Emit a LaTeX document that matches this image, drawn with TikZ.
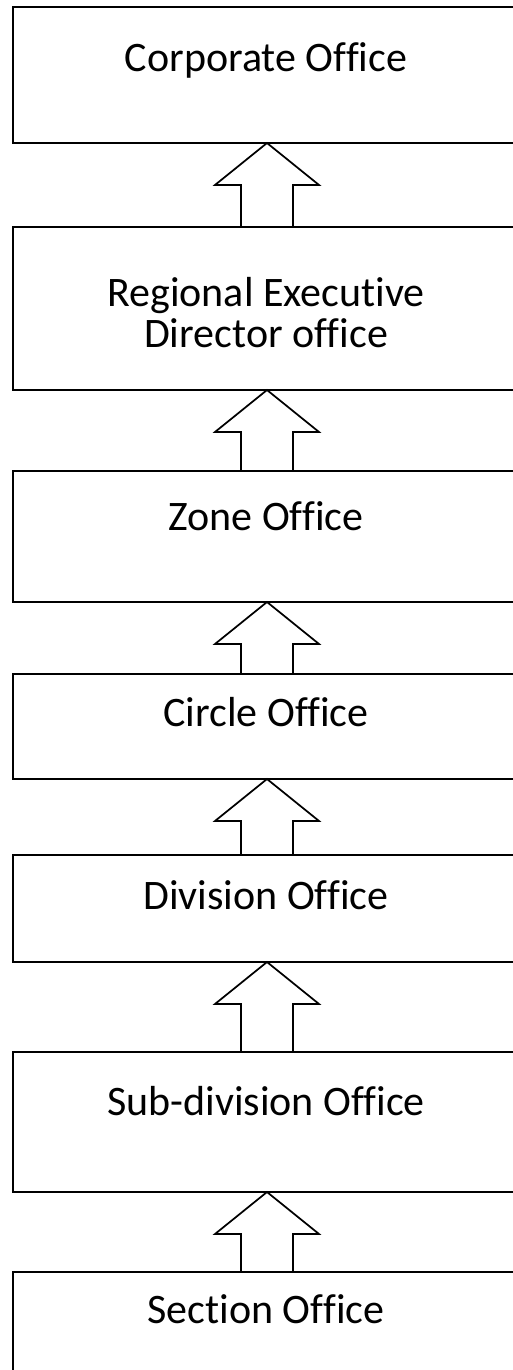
\documentclass[tikz,border=0pt]{standalone}
\usepackage{fontspec}
\setmainfont{Carlito}[Ligatures=NoCommon]
\usetikzlibrary{calc}

\begin{document}
\begin{tikzpicture}[
    x=0.75pt, y=-0.75pt,
    office/.style={draw, line width=1.5pt, minimum width=508*0.75pt,
                   inner sep=0pt, outer sep=0pt},
    officetext/.style={font=\fontsize{31.5}{30.75}\selectfont, anchor=base,
                       align=center, inner sep=0pt},
    blockarrow/.style={draw, fill=white, line width=1.3pt, line join=miter},
  ]

  \def\headw{52}  % half width of arrow head (px)
  \def\shaftw{26} % half width of arrow shaft (px)
  \def\headh{42}  % height of arrow head (px)

  \useasboundingbox (0,0) rectangle (512,1370);

  % --- office boxes ---
  \node[office, minimum height=136*0.75pt] (corporate) at (267,75) {};
  \node[office, minimum height=163*0.75pt] (regional)  at (267,308.5) {};
  \node[office, minimum height=131*0.75pt] (zone)      at (267,536.5) {};
  \node[office, minimum height=105*0.75pt] (circle)    at (267,726.5) {};
  \node[office, minimum height=107*0.75pt] (division)  at (267,908.5) {};
  \node[office, minimum height=140*0.75pt] (subdiv)    at (267,1122) {};
  \node[office, minimum height=103*0.75pt] (section)   at (267,1323.5) {};

  % --- labels ---
  \node[officetext] (corporatetxt) at (266,72) {Corporate Office};
  \node[officetext, anchor=center] (regionaltxt) at (266,312.5)
    {Regional Executive\\Director office};
  \node[officetext] (zonetxt)     at (266,530)  {Zone Office};
  \node[officetext] (circletxt)   at (266,726)  {Circle Office};
  \node[officetext] (divisiontxt) at (266,909)  {Division Office};
  \node[officetext] (subdivtxt)   at (266,1115) {Sub-division Office};
  \node[officetext] (sectiontxt)  at (266,1323) {Section Office};

  % --- block arrows, lower box up to upper box ---
  \foreach \lo/\hi in {regional/corporate, zone/regional, circle/zone,
                       division/circle, subdiv/division, section/subdiv} {
    \draw[blockarrow] (\hi.south) -- ++(-\headw,\headh) -- ++(\headw-\shaftw,0)
      -- ($(\lo.north)+(-\shaftw,0)$) -- ($(\lo.north)+(\shaftw,0)$)
      -- ($(\hi.south)+(\shaftw,\headh)$) -- ++(\headw-\shaftw,0) -- cycle;
  }

\end{tikzpicture}
\end{document}
